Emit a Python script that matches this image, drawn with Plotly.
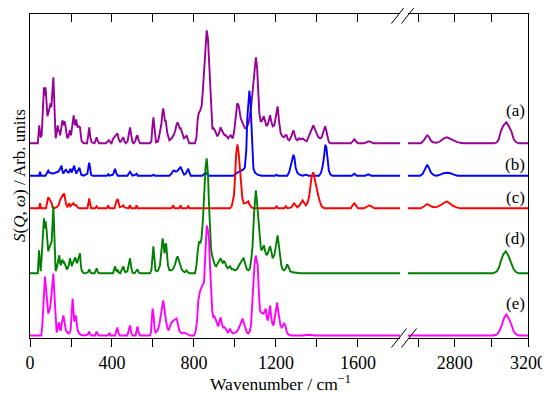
import plotly.graph_objects as go

# ---------------- data ----------------
# low-wavenumber window (0-1805 cm-1): (wavenumber, intensity above baseline)
a_low = [(0,0),(38,0),(45,18),(52,6),(57,8),(63,40),(68,56),(72,48),(76,56),(81,40),(85,27),(89,30),(93,33),(97,38),(101,40),(104,36),(107,43),(111,55),(114,66),(117,50),(119,37),(122,15),(125,5),(130,10),(135,18),(139,12),(143,13),(147,8),(152,18),(158,23),(164,18),(168,22),(171,20),(176,10),(182,5),(188,7),(195,13),(200,8),(205,15),(210,24),(213,28),(217,20),(221,18),(225,24),(228,20),(232,16),(237,17),(244,16),(248,8),(252,2),(262,0),(278,0),(284,8),(289,16),(295,5),(301,1),(315,0),(320,3),(325,6),(331,2),(337,0),(370,0),(377,1),(385,3),(392,1),(398,0),(404,4),(410,6),(415,7),(420,8),(426,10),(432,5),(439,1),(447,3),(455,6),(461,2),(467,0),(476,2),(482,10),(488,16),(494,8),(500,1),(506,0),(515,3),(520,7),(524,8),(530,3),(537,0),(585,0),(592,2),(597,16),(602,26),(607,16),(612,3),(615,1),(625,2),(634,10),(640,18),(646,30),(650,35),(655,28),(658,22),(662,23),(666,16),(670,10),(680,3),(691,5),(700,8),(708,12),(714,18),(720,21),(726,18),(730,15),(735,15),(742,10),(751,5),(758,6),(764,8),(770,4),(777,0),(805,0),(812,6),(818,24),(823,30),(830,33),(837,37),(843,52),(849,73),(855,95),(862,113),(868,105),(873,82),(878,60),(882,35),(886,17),(890,14),(895,15),(902,13),(908,10),(914,7),(922,10),(930,16),(936,13),(943,10),(949,8),(955,8),(961,6),(967,5),(973,7),(979,8),(984,6),(989,5),(996,12),(1003,28),(1011,40),(1018,38),(1028,25),(1038,20),(1049,15),(1058,16),(1066,20),(1078,35),(1088,55),(1096,77),(1102,86),(1108,75),(1113,55),(1119,30),(1125,22),(1130,22),(1136,25),(1141,27),(1147,22),(1154,17),(1162,20),(1171,28),(1177,22),(1184,17),(1192,18),(1200,28),(1208,37),(1215,22),(1223,10),(1231,7),(1239,6),(1246,8),(1252,8),(1258,4),(1265,3),(1275,7),(1285,13),(1292,8),(1298,4),(1304,3),(1312,5),(1320,4),(1330,5),(1340,3),(1350,2),(1362,8),(1374,15),(1382,18),(1390,14),(1398,10),(1407,6),(1415,5),(1423,6),(1432,12),(1440,17),(1446,12),(1452,5),(1458,1),(1465,0),(1565,0),(1574,2),(1582,4),(1590,2),(1600,0),(1630,0),(1642,1.5),(1652,2),(1662,1.5),(1675,0),(1805,0)]
b_low = [(0,0),(45,0),(49,4),(54,0),(75,0),(85,4),(89,5),(95,3),(102,3),(110,2),(120,3),(130,4),(138,4),(144,6),(150,8),(154,10),(158,5),(163,2),(170,5),(176,6),(181,4),(188,3),(193,5),(198,7),(203,3),(208,6),(212,8),(216,10),(220,6),(226,2),(232,5),(237,6),(241,8),(245,4),(250,1),(262,0),(280,2),(286,10),(289,13),(293,8),(298,1),(305,0),(375,0),(382,1.5),(388,0),(405,1),(410,4),(415,7),(420,3),(428,0),(475,0),(482,2),(488,4),(494,2),(500,0),(515,1),(520,2),(526,0),(595,0),(602,1),(610,0),(680,0),(690,2),(699,5),(706,5),(712,4),(720,5),(728,7),(735,9),(740,6),(745,3),(752,1),(760,2),(766,5),(772,7),(778,3),(784,0),(840,0),(850,2),(858,3),(866,1),(875,0),(990,0),(1000,1),(1010,3),(1020,4),(1030,5),(1040,6),(1048,8),(1055,25),(1060,57),(1066,80),(1070,85),(1075,75),(1080,50),(1085,20),(1090,7),(1098,3),(1110,1),(1130,0),(1195,0),(1203,1),(1210,0),(1255,0),(1265,4),(1272,10),(1280,19),(1285,21),(1290,18),(1296,8),(1304,3),(1315,1),(1330,0),(1345,1),(1360,0),(1410,0),(1420,3),(1428,10),(1435,20),(1441,31),(1446,28),(1452,15),(1458,5),(1466,1),(1475,0),(1570,0),(1582,2),(1594,0),(1635,0),(1650,1.3),(1665,0),(1805,0)]
c_low = [(0,0),(44,0),(49,5),(54,0),(78,0),(84,6),(89,11),(93,10),(97,8),(102,6),(106,5),(110,1),(120,0),(130,1),(140,3),(146,8),(150,10),(155,11),(159,13),(163,12),(167,15),(171,10),(175,5),(182,1),(187,3),(192,5),(197,2),(203,3),(207,4),(211,5),(215,4),(220,3),(226,3),(232,1),(240,0),(280,0),(285,5),(289,10),(293,5),(298,0),(318,0),(325,2),(332,0),(375,0),(382,3),(388,0),(412,0),(418,6),(423,8),(428,9),(433,4),(438,1),(450,2),(455,3),(460,1),(480,0),(488,3),(494,0),(515,0),(520,3),(526,0),(690,0),(699,3),(705,0),(728,0),(735,3),(741,0),(765,0),(772,2),(778,0),(975,0),(984,2),(990,8),(995,13),(1000,30),(1006,55),(1012,64),(1018,55),(1024,40),(1030,20),(1036,10),(1042,5),(1050,5),(1058,6),(1065,7),(1070,4),(1080,1),(1090,0),(1195,0),(1203,2),(1210,0),(1240,0),(1248,2),(1256,0),(1275,1),(1288,5),(1298,2),(1304,1),(1315,3),(1322,6),(1330,8),(1338,5),(1346,3),(1355,6),(1362,12),(1368,22),(1374,32),(1382,36),(1388,30),(1394,23),(1400,17),(1407,12),(1415,6),(1423,2),(1435,0),(1565,0),(1574,3),(1582,5),(1590,3),(1600,0),(1630,0),(1645,2),(1655,3),(1665,2),(1680,0),(1805,0)]
d_low = [(0,0),(38,0),(44,23),(49,5),(52,2),(58,20),(64,45),(68,55),(72,45),(76,52),(80,45),(85,28),(89,22),(93,25),(98,28),(102,30),(106,32),(110,50),(114,67),(117,50),(119,30),(122,10),(125,2),(130,5),(135,10),(140,16),(143,18),(147,10),(150,8),(154,12),(159,13),(163,10),(167,11),(171,9),(175,6),(180,4),(184,5),(189,8),(195,15),(200,10),(204,7),(208,10),(213,12),(217,14),(221,16),(225,12),(230,10),(235,14),(240,18),(244,20),(248,8),(252,3),(260,0.5),(270,0),(282,1),(289,4),(295,1),(301,0),(315,0),(320,2),(325,5),(331,1),(337,0),(405,0),(410,4),(415,7),(420,3),(424,2),(428,3),(433,1),(440,0),(448,3),(455,7),(460,3),(465,1),(475,2),(482,8),(488,15),(494,6),(500,0.5),(510,0),(518,2),(524,4),(530,1),(537,0),(585,0),(592,3),(597,15),(602,27),(607,15),(612,3),(618,2),(625,3),(634,8),(640,18),(647,35),(652,28),(656,20),(660,28),(664,30),(668,20),(673,8),(680,3),(691,3),(700,5),(708,9),(714,14),(720,17),(726,13),(732,8),(740,4),(748,2),(755,1),(760,2),(764,3),(770,1),(778,0),(805,0),(812,8),(818,22),(825,32),(831,30),(837,35),(844,55),(850,85),(856,105),(862,115),(868,100),(873,70),(878,40),(883,25),(888,18),(895,12),(902,8),(908,7),(915,9),(922,12),(930,15),(936,12),(940,10),(946,12),(951,11),(958,7),(965,5),(970,6),(976,7),(984,4),(992,4),(1000,3),(1010,4),(1020,8),(1030,12),(1037,14),(1042,15),(1050,8),(1058,4),(1066,3),(1073,5),(1080,15),(1086,28),(1093,60),(1102,83),(1108,70),(1114,52),(1120,35),(1126,25),(1130,23),(1136,26),(1141,28),(1147,22),(1154,18),(1160,20),(1166,24),(1171,27),(1177,22),(1184,15),(1192,18),(1200,30),(1208,38),(1214,28),(1220,15),(1226,8),(1232,4),(1240,3),(1248,5),(1255,9),(1262,6),(1270,2),(1280,1),(1295,0.5),(1320,0),(1805,0)]
e_low = [(0,0),(55,0),(60,10),(65,35),(69,50),(73,59),(77,50),(81,40),(85,30),(89,22),(93,24),(98,28),(102,35),(106,42),(110,55),(114,62),(118,45),(122,25),(126,10),(130,3),(135,8),(141,13),(146,6),(150,5),(155,12),(160,18),(163,20),(167,15),(170,10),(175,5),(182,3),(190,2),(198,5),(203,20),(208,37),(212,25),(216,14),(220,16),(224,20),(228,12),(233,5),(240,2),(250,0.5),(270,0),(282,1),(289,4),(295,1),(301,0),(318,0),(325,4),(331,1),(337,0),(380,0),(387,2),(394,0),(415,0),(420,4),(426,8),(432,2),(438,0),(475,0),(482,5),(488,10),(494,3),(500,0),(515,0),(520,5),(524,9),(530,3),(537,0),(585,0),(590,3),(594,15),(598,27),(603,20),(608,6),(614,3),(622,5),(630,10),(637,20),(644,30),(650,35),(655,28),(659,20),(664,14),(670,8),(676,5),(684,10),(690,13),(700,15),(708,16),(715,17),(721,12),(728,5),(735,3),(742,2),(752,3),(760,2),(770,0.5),(780,0),(800,0),(808,4),(815,15),(821,35),(829,44),(837,49),(843,51),(849,53),(855,85),(862,110),(868,105),(873,98),(878,70),(883,45),(889,25),(894,18),(900,19),(906,16),(912,11),(918,9),(924,14),(930,18),(936,12),(942,8),(951,8),(958,5),(965,3),(970,4),(976,7),(982,4),(990,2),(1000,3),(1010,4),(1020,8),(1030,14),(1037,17),(1044,12),(1050,7),(1058,3),(1065,2),(1072,4),(1078,10),(1084,30),(1089,55),(1095,70),(1101,80),(1106,75),(1111,70),(1116,45),(1122,25),(1128,23),(1134,22),(1140,22),(1145,24),(1150,27),(1155,18),(1160,15),(1166,22),(1171,30),(1176,20),(1182,12),(1188,10),(1194,18),(1200,28),(1206,33),(1211,24),(1216,15),(1222,10),(1228,8),(1234,10),(1240,12),(1246,10),(1252,4),(1260,1),(1275,0),(1330,0),(1360,0.7),(1390,0),(1805,0)]

# high-wavenumber window (2544-3200 cm-1)
a_high = [(2544,0),(2615,0),(2630,3),(2642,7),(2649,8),(2657,7),(2668,3),(2680,1),(2700,0.5),(2720,2),(2740,5),(2758,6),(2770,5),(2790,3),(2810,1.5),(2830,0.5),(2850,0),(3015,0),(3030,1),(3040,4),(3051,12),(3066,18),(3082,21),(3095,17),(3109,12),(3122,4),(3136,1),(3150,0),(3200,0)]
b_high = [(2544,0),(2610,0),(2625,2),(2640,8),(2649,11),(2658,8),(2670,3),(2685,0.5),(2700,0),(2720,1),(2740,2.5),(2758,3),(2775,2.5),(2795,1),(2815,0),(3200,0)]
c_high = [(2544,0),(2615,0),(2632,2),(2649,4.3),(2662,3),(2675,1.5),(2690,1),(2710,2),(2730,4),(2745,6),(2758,6.7),(2770,5),(2790,2.5),(2810,1),(2830,0),(3200,0)]
d_high = [(2544,0),(3010,0),(3030,2),(3042,6),(3051,12),(3065,19),(3078,22),(3092,18),(3109,10),(3122,4),(3136,1),(3150,0),(3200,0)]
e_high = [(2544,0),(3010,0),(3030,1),(3045,5),(3058,11),(3070,18),(3082,21),(3095,17),(3109,11),(3122,4),(3136,1),(3150,0),(3200,0)]

labels = ["(a)", "(b)", "(c)", "(d)", "(e)"]
offsets = [194.7, 162.3, 129.7, 64.7, 2.5]
colors = ["#990099", "#0000FF", "#FF0000", "#008000", "#FF00FF"]

low_labeled_ticks = [0, 400, 800, 1200, 1600]
high_labeled_ticks = [2800, 3200]
all_low_ticks = [0, 200, 400, 600, 800, 1000, 1200, 1400, 1600]
all_high_ticks = [2600, 2800, 3000, 3200]

x_low_range = [0, 1805]
x_high_range = [2544, 3200]
y_range = [0, 324]

# ---------------- figure ----------------
FONT = "Liberation Serif, Times New Roman, serif"
# the page body has an 8px margin; the figure is sized so the plot lands where it should
W, H = 542, 387
PL, PR, PT, PB = 22, 520, 6, 330   # plot-area edges inside the figure (px)

fig = go.Figure()
lows = [a_low, b_low, c_low, d_low, e_low]
highs = [a_high, b_high, c_high, d_high, e_high]
for lo, hi, off, col in zip(lows, highs, offsets, colors):
    fig.add_trace(go.Scatter(x=[p[0] for p in lo], y=[p[1] + off for p in lo],
                             mode="lines", line=dict(color=col, width=1.9),
                             xaxis="x", yaxis="y", showlegend=False, hoverinfo="skip"))
    fig.add_trace(go.Scatter(x=[p[0] for p in hi], y=[p[1] + off for p in hi],
                             mode="lines", line=dict(color=col, width=1.9),
                             xaxis="x2", yaxis="y2", showlegend=False, hoverinfo="skip"))

label_y = [228, 174, 141, 100, 35]
for lab, ly in zip(labels, label_y):
    fig.add_annotation(x=3200, y=ly, xref="x2", yref="y2", text=lab, showarrow=False,
                       xanchor="right", yanchor="middle", xshift=-1,
                       font=dict(family=FONT, size=17, color="black"))

pw = PR - PL
ph = PB - PT
d1 = (392 - PL) / pw     # left window ends at page x=400
d2 = (400 - PL) / pw     # right window starts at page x=408
axis_common = dict(showgrid=False, zeroline=False, showline=True, linecolor="black",
                   linewidth=1, tickcolor="black", tickwidth=1, ticklen=8, automargin=False,
                   tickfont=dict(family=FONT, size=18, color="black"))
fig.update_layout(
    template="none",
    width=W, height=H,
    margin=dict(l=PL, r=W - PR, t=PT, b=H - PB, pad=0),
    paper_bgcolor="white", plot_bgcolor="white",
    font=dict(family=FONT, size=17, color="black"),
    xaxis=dict(domain=[0, d1], range=x_low_range, tickmode="array", tickvals=low_labeled_ticks,
               ticks="outside", anchor="y",
               minor=dict(tickmode="array", tickvals=all_low_ticks, ticks="outside", ticklen=8,
                          tickcolor="black", tickwidth=1, showgrid=False),
               **axis_common),
    xaxis2=dict(domain=[d2, 1], range=x_high_range, tickmode="array", tickvals=high_labeled_ticks,
                ticks="outside", anchor="y2",
                minor=dict(tickmode="array", tickvals=all_high_ticks, ticks="outside", ticklen=8,
                           tickcolor="black", tickwidth=1, showgrid=False),
                **axis_common),
    xaxis3=dict(overlaying="x", side="top", anchor="y", range=x_low_range, tickmode="array",
                tickvals=all_low_ticks, ticks="inside", showticklabels=False, **axis_common),
    xaxis4=dict(overlaying="x2", side="top", anchor="y2", range=x_high_range, tickmode="array",
                tickvals=all_high_ticks, ticks="inside", showticklabels=False, **axis_common),
    yaxis=dict(range=y_range, anchor="x", showgrid=False, zeroline=False, showline=True,
               linecolor="black", linewidth=1, ticks="", showticklabels=False, automargin=False),
    yaxis2=dict(range=y_range, anchor="x2", side="right", showgrid=False, zeroline=False,
                showline=True, linecolor="black", linewidth=1, ticks="", showticklabels=False,
                automargin=False),
)
# empty traces so the top overlay axes are drawn
fig.add_trace(go.Scatter(x=[], y=[], xaxis="x3", yaxis="y", showlegend=False, hoverinfo="skip"))
fig.add_trace(go.Scatter(x=[], y=[], xaxis="x4", yaxis="y2", showlegend=False, hoverinfo="skip"))

# axis-break marks (page px -> paper coords)
def px_to_paper(px, py):
    return (px - 8 - PL) / pw, (PB - (py - 8)) / ph
for ay in (14, 338):
    for cx in (399, 409):
        x0, y0 = px_to_paper(cx - 7.5, ay + 9.5)
        x1, y1 = px_to_paper(cx + 7.5, ay - 9.5)
        fig.add_shape(type="line", xref="paper", yref="paper", x0=x0, y0=y0, x1=x1, y1=y1,
                      line=dict(color="black", width=1))

tx, ty = px_to_paper(280, 383)
fig.add_annotation(x=tx, y=ty, xref="paper", yref="paper",
                   text="Wavenumber / cm<sup>−1</sup>", showarrow=False,
                   xanchor="center", yanchor="middle",
                   font=dict(family=FONT, size=17.5, color="black"))
yx, yy = px_to_paper(19, 176)
fig.add_annotation(x=yx, y=yy, xref="paper", yref="paper",
                   text="<i>S</i>(<i>Q</i>, <i>ω</i>) / Arb. units", showarrow=False,
                   textangle=-90, xanchor="center", yanchor="middle",
                   font=dict(family=FONT, size=17, color="black"))

fig.write_html("out.html")
